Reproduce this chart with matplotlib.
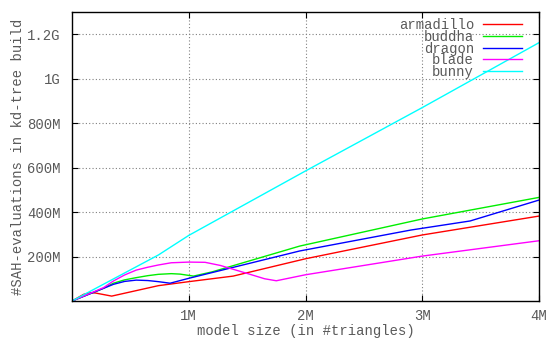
import matplotlib
matplotlib.use("Agg")
import matplotlib.pyplot as plt

# Data (x in millions of triangles, y in millions of SAH evaluations)
armadillo_x = [0, 0.1, 0.155, 0.2, 0.34, 0.74, 1.0, 1.38, 2.0, 3.0, 4.0]
armadillo_y = [0, 30, 37, 36, 22, 69, 87, 112, 190, 297, 382]

buddha_x = [0, 0.27, 0.355, 0.45, 0.55, 0.65, 0.74, 0.85, 0.925, 1.04, 1.2, 1.95, 3.0, 4.0]
buddha_y = [0, 57, 80, 95, 105, 114, 120, 123, 121, 112, 131, 247, 369, 466]

dragon_x = [0, 0.27, 0.355, 0.45, 0.55, 0.65, 0.74, 0.84, 1.0, 1.95, 2.9, 3.41, 4.0]
dragon_y = [0, 57, 75, 88, 94, 92, 87, 80, 102, 225, 319, 360, 454]

blade_x = [0, 0.27, 0.355, 0.45, 0.55, 0.65, 0.74, 0.85, 1.0, 1.14, 1.27, 1.5, 1.65, 1.75, 2.0, 3.0, 4.0]
blade_y = [0, 60, 90, 117, 139, 152, 162, 172, 175, 174, 160, 124, 100, 91, 118, 202, 271]

bunny_x = [0, 0.74, 1.0, 2.0, 3.0, 4.0]
bunny_y = [0, 207, 295, 585, 870, 1162]

series_names = ["armadillo", "buddha", "dragon", "blade", "bunny"]
series_colors = ["#ff0000", "#00ee00", "#0000ff", "#ff00ff", "#00ffff"]

x_ticks = [1, 2, 3, 4]
x_tick_labels = ["1M", "2M", "3M", "4M"]
y_ticks = [200, 400, 600, 800, 1000, 1200]
y_tick_labels = ["200M", "400M", "600M", "800M", "1G", "1.2G"]

FONT = "Liberation Mono"
TXT = "#5a5a5a"

fig = plt.figure(figsize=(5.48, 3.38), dpi=100)
ax = fig.add_axes([72/548, 1-301/338, (539-72)/548, (301-12)/338])

data = [(armadillo_x, armadillo_y), (buddha_x, buddha_y), (dragon_x, dragon_y),
        (blade_x, blade_y), (bunny_x, bunny_y)]
for (xs, ys), name, c in zip(data, series_names, series_colors):
    ax.plot(xs, ys, color=c, lw=1.0, label=name)

ax.set_xlim(0, 4)
ax.set_ylim(0, 1300)
ax.set_xticks(x_ticks)
ax.set_xticklabels(x_tick_labels)
ax.set_yticks(y_ticks)
ax.set_yticklabels(y_tick_labels)
ax.tick_params(direction="in", length=4, width=0.8, top=True, right=True,
               labelsize=10, labelcolor=TXT, color="black")
ax.tick_params(axis="x", pad=6)
ax.tick_params(axis="y", pad=8)
for lab in ax.get_xticklabels() + ax.get_yticklabels():
    lab.set_fontfamily(FONT)

ax.grid(True, color="#808080", linestyle=(0, (1, 2)), lw=0.8)
for s in ax.spines.values():
    s.set_linewidth(1.0)
    s.set_color("black")

ax.set_xlabel("model size (in #triangles)", fontsize=10, family=FONT, color=TXT, labelpad=0.5)
ax.set_ylabel("#SAH-evaluations in kd-tree build", fontsize=10, family=FONT, color=TXT, labelpad=2)

leg = ax.legend(loc="upper right", bbox_to_anchor=((522-72)/467, 1 - 6/289),
                frameon=False, markerfirst=False, handlelength=2.8, handletextpad=0.65,
                labelspacing=-0.16, borderpad=0, borderaxespad=0,
                prop={"family": FONT, "size": 10})
for t in leg.get_texts():
    t.set_color(TXT)

fig.savefig("out.png", dpi=100)
